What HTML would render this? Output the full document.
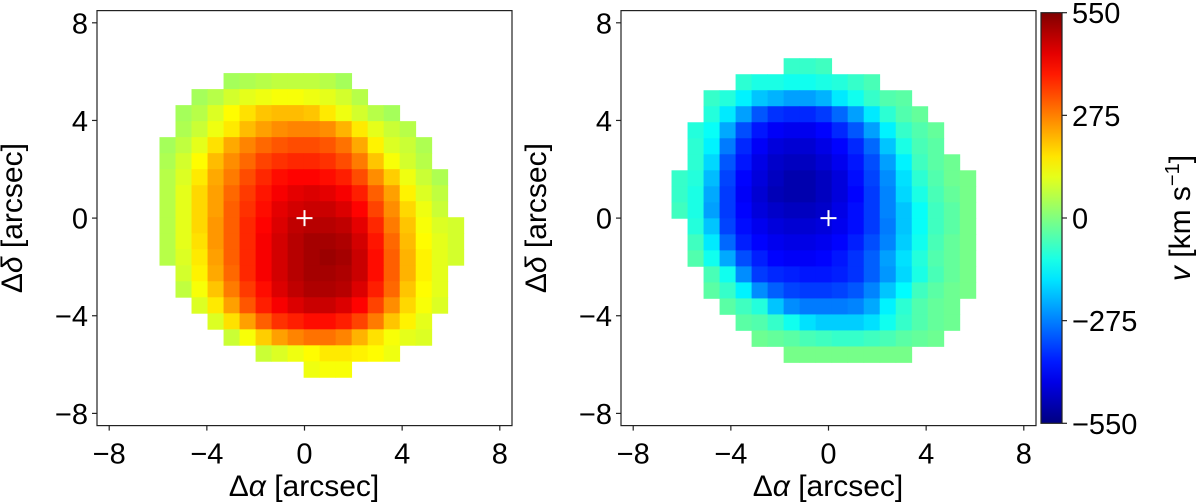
<!DOCTYPE html>
<html><head><meta charset="utf-8">
<style>
html,body{margin:0;padding:0;background:#fff;}
svg{display:block;font-family:"Liberation Sans","DejaVu Sans",sans-serif;}
</style></head>
<body>
<svg id="fig" width="1200" height="503" viewBox="0 0 1200 503" xmlns="http://www.w3.org/2000/svg"></svg>
<script>
// ---- data ----
const vmin = -550, vmax = 550;
const axisRange = [-8.5, 8.5];
const tickValues = [-8, -4, 0, 4, 8];
const cbarTicks = [550, 275, 0, -275, -550];
const cellSize = 0.656; // arcsec per spaxel
const leftOrigin = [-5.94, 5.94];   // upper-left corner of grid (arcsec)
const rightOrigin = [-6.43, 6.55];
// rows: [startColumn, values...] in km/s
const leftRows = [
 [4,40,50,60,70,70,70,60,40],
 [2,40,60,90,110,120,130,130,120,110,90,60],
 [1,40,60,100,140,170,200,210,210,200,160,120,90,60,40],
 [1,50,80,120,160,210,240,260,270,270,260,220,160,110,80,60],
 [0,40,70,110,170,230,270,300,320,330,330,320,290,230,150,100,80,50],
 [0,50,90,140,210,260,300,340,360,370,370,360,330,280,200,130,90,60],
 [0,60,100,160,230,280,330,370,400,410,410,400,380,330,260,190,120,80,50],
 [0,60,110,180,240,300,350,390,420,440,450,440,420,380,310,240,150,100,70],
 [0,60,110,180,240,310,360,400,440,460,470,470,450,410,340,260,180,120,80],
 [0,60,110,180,250,310,370,410,450,480,490,490,480,440,370,280,200,130,100,90],
 [0,60,110,170,250,310,370,420,460,490,510,510,500,460,390,300,210,140,110,90],
 [0,60,100,160,240,310,370,420,460,490,510,520,510,470,400,310,220,150,110,90],
 [1,90,150,230,300,370,420,460,490,510,510,500,470,400,310,220,150,110],
 [1,70,130,200,280,350,400,450,480,500,500,490,450,380,300,200,140,110],
 [2,100,160,240,320,380,420,450,470,470,450,410,340,260,180,130,100],
 [3,100,170,240,310,360,380,400,400,380,340,280,200,150,110],
 [4,80,130,190,240,270,290,290,270,220,170,130,110,100],
 [6,80,100,120,140,160,160,150,140,120],
 [9,120,130,130]
];
const rightRows = [
 [7,-80,-80,-70],
 [4,-90,-110,-110,-120,-120,-110,-100,-80,-60],
 [2,-80,-100,-150,-200,-220,-240,-240,-220,-160,-120,-80,-50,-40],
 [2,-100,-160,-240,-320,-360,-370,-370,-350,-300,-240,-160,-90,-50,-30],
 [1,-100,-130,-230,-330,-390,-420,-430,-430,-410,-370,-320,-240,-150,-80,-50,-30],
 [1,-90,-150,-280,-370,-420,-450,-460,-460,-440,-410,-370,-300,-200,-110,-60,-40],
 [1,-90,-180,-320,-390,-440,-470,-480,-480,-460,-430,-390,-330,-240,-150,-70,-40,-20],
 [0,-80,-100,-210,-340,-410,-450,-480,-500,-500,-480,-450,-400,-340,-260,-170,-90,-50,-20,-10],
 [0,-80,-110,-230,-350,-420,-460,-490,-500,-500,-480,-450,-410,-350,-270,-180,-110,-60,-30,-10],
 [0,-70,-110,-240,-350,-410,-450,-470,-480,-480,-470,-440,-400,-350,-270,-200,-130,-70,-40,-10],
 [1,-100,-200,-340,-400,-430,-450,-460,-460,-450,-430,-400,-350,-280,-200,-130,-70,-40,-10],
 [1,-70,-160,-300,-380,-410,-430,-440,-440,-430,-410,-380,-330,-270,-190,-120,-60,-30,-10],
 [1,-50,-120,-230,-330,-380,-410,-420,-420,-410,-390,-360,-310,-240,-170,-100,-50,-30,-10],
 [2,-60,-120,-260,-350,-370,-380,-390,-390,-380,-360,-310,-250,-180,-110,-60,-30,-10],
 [2,-40,-80,-150,-260,-310,-340,-350,-350,-340,-320,-270,-200,-140,-70,-40,-20,-10],
 [3,-40,-70,-100,-200,-260,-280,-280,-280,-270,-230,-150,-90,-50,-30,-20],
 [4,-40,-50,-80,-120,-170,-190,-190,-190,-170,-120,-80,-50,-30,-20],
 [5,-20,-30,-40,-60,-70,-80,-80,-70,-60,-40,-30,-20],
 [7,-10,-10,-10,-10,-10,-10,-10,-10]
];

// ---- helpers ----
const NS = "http://www.w3.org/2000/svg";
const svg = document.getElementById('fig');
function mk(tag, attrs, parent){const e=document.createElementNS(NS,tag);for(const k in attrs)e.setAttribute(k,attrs[k]);(parent||svg).appendChild(e);return e;}
function jet(t){
  t=Math.max(0,Math.min(1,t));
  const f=x=>Math.max(0,Math.min(1,x));
  const r=f(1.5-Math.abs(4*t-3)), g=f(1.5-Math.abs(4*t-2)), b=f(1.5-Math.abs(4*t-1));
  return `rgb(${Math.round(r*255)},${Math.round(g*255)},${Math.round(b*255)})`;
}
const PPA = 415/17; // px per arcsec
const boxTop = 10.6, boxH = 415;

function panel(name, left, rows, origin){
  const xs = v => left + (v - axisRange[0]) * PPA;
  const ys = v => boxTop + (axisRange[1] - v) * PPA;
  const g = mk('g', {});
  
  
  rows.forEach((row, r) => {
    const start = row[0];
    for (let i = 1; i < row.length; i++) {
      const c = start + i - 1;
      const x0 = xs(origin[0] + c*cellSize), y0 = ys(origin[1] - r*cellSize);
      const cell = mk('rect', {x:x0.toFixed(2), y:y0.toFixed(2), width:(cellSize*PPA+0.4).toFixed(2), height:(cellSize*PPA+0.4).toFixed(2), fill:jet((row[i]-vmin)/(vmax-vmin))}, g);
      
      
    }
  });
  const cx = xs(0), cy = ys(0);
  const cross = mk('path', {d:`M${cx-8},${cy}H${cx+8}M${cx},${cy-8}V${cy+8}`, stroke:'#fff', 'stroke-width':2}, g);
  
  
  const frame = mk('rect', {x:left, y:boxTop, width:415, height:boxH, fill:'none', stroke:'#222', 'stroke-width':1.2}, g);
  
  
  tickValues.forEach(v => {
    mk('line', {x1:xs(v), x2:xs(v), y1:boxTop+boxH, y2:boxTop+boxH+5, stroke:'#222', 'stroke-width':1.2}, g);
    const tx = mk('text', {x:xs(v), y:boxTop+boxH+38, 'font-size':29, 'text-anchor':'middle', fill:'#000'}, g);
    tx.textContent = v < 0 ? '\u2212' + Math.abs(v) : String(v);
    
    
    mk('line', {x1:left-5, x2:left, y1:ys(v), y2:ys(v), stroke:'#222', 'stroke-width':1.2}, g);
    const ty = mk('text', {x:left-9, y:ys(v)+10.5, 'font-size':29, 'text-anchor':'end', fill:'#000'}, g);
    ty.textContent = v < 0 ? '\u2212' + Math.abs(v) : String(v);
    
    
  });
  const xl = mk('text', {x:left+207, y:496, 'font-size':30, 'text-anchor':'middle', fill:'#000'}, g);
  xl.innerHTML = 'Δ<tspan font-style="italic">α</tspan> [arcsec]';
  
  
  const yl = mk('text', {x:0, y:0, 'font-size':30, 'text-anchor':'middle', fill:'#000', transform:`translate(${left-75},${boxTop+boxH/2}) rotate(-90)`}, g);
  yl.innerHTML = 'Δ<tspan font-style="italic">δ</tspan> [arcsec]';
  
  
}
panel('redshifted-velocity-map', 97, leftRows, leftOrigin);
panel('blueshifted-velocity-map', 621, rightRows, rightOrigin);

// ---- colorbar ----
const cbX = 1041, cbW = 21, cbTop = 12.7, cbBot = 423.3;
const cb = mk('g', {});


const defs = mk('defs', {}, cb);
const grad = mk('linearGradient', {id:'jetgrad', x1:0, y1:1, x2:0, y2:0}, defs);
for (let i = 0; i <= 20; i++) mk('stop', {offset:i/20, 'stop-color':jet(i/20)}, grad);
mk('rect', {x:cbX, y:cbTop, width:cbW, height:cbBot-cbTop, fill:'url(#jetgrad)', stroke:'#222', 'stroke-width':1.2}, cb);
const cbY = v => cbBot - (v - vmin)/(vmax - vmin)*(cbBot - cbTop);
cbarTicks.forEach(v => {
  mk('line', {x1:cbX+cbW, x2:cbX+cbW+5, y1:cbY(v), y2:cbY(v), stroke:'#222', 'stroke-width':1.2}, cb);
  const t = mk('text', {x:cbX+cbW+10, y:cbY(v)+10.5, 'font-size':29, fill:'#000'}, cb);
  t.textContent = v < 0 ? '\u2212' + Math.abs(v) : String(v);
  
  
});
const cl = mk('text', {x:0, y:0, 'font-size':30, 'text-anchor':'middle', fill:'#000', transform:`translate(1190,218) rotate(-90)`}, cb);
cl.innerHTML = '<tspan font-style="italic">v</tspan> [km s<tspan baseline-shift="super" font-size="20">−1</tspan>]';


</script>
</body></html>
